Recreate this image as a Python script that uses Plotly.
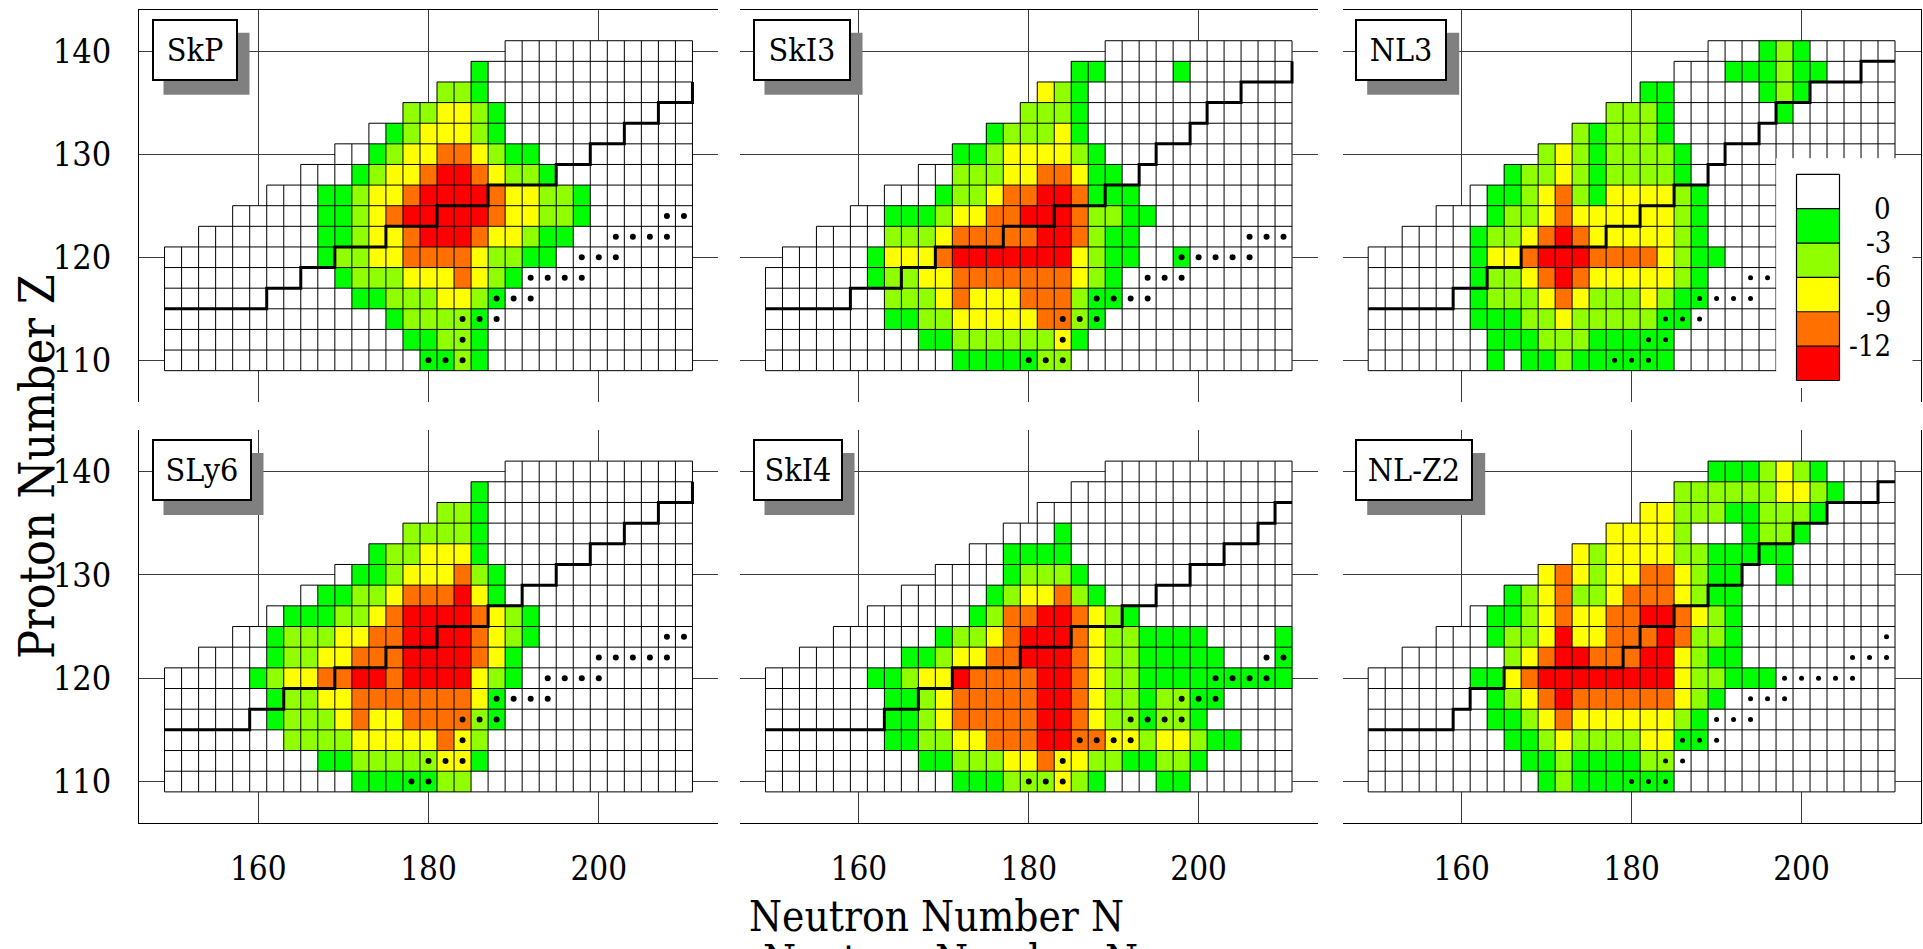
import plotly.graph_objects as go

W, H = 1923, 949

# Even-even nuclei on the chart: neutron number columns, proton number rows (top to bottom)
N_VALUES = list(range(150, 212, 2))
Z_VALUES = list(range(140, 108, -2))

# Shell-correction classes per cell: '.' not computed, '0' >= 0 MeV, '1' 0..-3, '2' -3..-6,
# '3' -6..-9, '4' -9..-12, '5' below -12 MeV
CLASS_ENERGY = {"0": 1.5, "1": -1.5, "2": -4.5, "3": -7.5, "4": -10.5, "5": -13.5}
BAND_EDGES = [-15, -12, -9, -6, -3, 0, 3]
BAND_COLORS = ["#ff0000", "#ff7000", "#ffff00", "#90ff00", "#00ff00", "#ffffff"]
LEGEND_TICKS = [0, -3, -6, -9, -12]

PANEL_NAMES = ["SkP", "SkI3", "NL3", "SLy6", "SkI4", "NL-Z2"]

SKP_ROWS = [
    ".........." ".........." "0000000000" "0",
    ".........." "........10" "0000000000" "0",
    ".........." "......2210" "0000000000" "0",
    ".........." "....223321" "0000000000" "0",
    ".........." "..01233321" "0000000000" "0",
    ".........." "0012334432" "1100000000" "0",
    "........00" "0123345543" "2210000000" "0",
    "......0001" "1233455554" "3322100000" "0",
    "....000001" "1234555554" "3322100000" "0",
    "..00000001" "1233455543" "3211000000" "0",
    "0000000001" "2233444432" "2110000000" "0",
    "0000000000" "1222333432" "1000000000" "0",
    "0000000000" "0112223321" "0000000000" "0",
    "0000000000" "0001222210" "0000000000" "0",
    "0000000000" "0000112210" "0000000000" "0",
    "0000000000" "0000011210" "0000000000" "0",
]
SKP_DOT_N = [208, 210, 202, 204, 206, 208, 198, 200, 202, 192, 194, 196, 198,
             188, 190, 192, 184, 186, 188, 184, 180, 182, 184]
SKP_DOT_Z = [124, 124, 122, 122, 122, 122, 120, 120, 120, 118, 118, 118, 118,
             116, 116, 116, 114, 114, 114, 112, 110, 110, 110]
SKP_LINE_N = [149, 161, 161, 165, 165, 169, 169, 175, 175, 181, 181, 187, 187,
              195, 195, 199, 199, 203, 203, 207, 207, 211, 211]
SKP_LINE_Z = [115, 115, 117, 117, 119, 119, 121, 121, 123, 123, 125, 125, 127,
              127, 129, 129, 131, 131, 133, 133, 135, 135, 137]

SKI3_ROWS = [
    ".........." ".........." "0000000000" "0",
    ".........." "........11" "0000100000" "0",
    ".........." "......3210" "0000000000" "0",
    ".........." ".....22210" "0000000000" "0",
    ".........." "...1222310" "0000000000" "0",
    ".........." ".112333321" "0000000000" "0",
    ".........0" "0222334431" "1000000000" "0",
    ".......000" "1223445541" "1100000000" "0",
    ".....00111" "2334455542" "2110000000" "0",
    "...0000222" "3444445542" "1100000000" "0",
    ".000001333" "4555555532" "1100100000" "0",
    "0000001223" "3444444432" "1000000000" "0",
    "0000000222" "3433344421" "1000000000" "0",
    "0000000112" "2333334421" "0000000000" "0",
    "0000000001" "1222222310" "0000000000" "0",
    "0000000000" "0111112200" "0000000000" "0",
]
SKI3_DOT_N = [206, 208, 210, 198, 200, 202, 204, 206, 194, 196, 198,
              188, 190, 192, 194, 184, 186, 188, 184, 180, 182, 184]
SKI3_DOT_Z = [122, 122, 122, 120, 120, 120, 120, 120, 118, 118, 118,
              116, 116, 116, 116, 114, 114, 114, 112, 110, 110, 110]
SKI3_LINE_N = [149, 159, 159, 165, 165, 169, 169, 177, 177, 183, 183, 189, 189,
               193, 193, 195, 195, 199, 199, 201, 201, 205, 205, 211, 211]
SKI3_LINE_Z = [115, 115, 117, 117, 119, 119, 121, 121, 123, 123, 125, 125, 127,
               127, 129, 129, 131, 131, 133, 133, 135, 135, 137, 137, 139]

NL3_ROWS = [
    ".........." ".........." "0001210000" "0",
    ".........." "........00" "0111211000" "0",
    ".........." "......1100" "0001210000" "0",
    ".........." "....222100" "0000100000" "0",
    ".........." "..21222100" "0000000000" "0",
    ".........." "2321222210" "0000000000" "0",
    "........12" "2321222210" "0000000000" "0",
    "......0112" "3421333321" "0000000000" "0",
    "....000122" "3433333321" "0000000000" "0",
    "..00001223" "4543333321" "0000000000" "0",
    "0000001334" "5554444321" "1000000000" "0",
    "0000001223" "4543333321" "0000000000" "0",
    "0000001222" "3432223211" "0000000000" "0",
    "0000001112" "2322222110" "0000000000" "0",
    "0000000111" "2221111100" "0000000000" "0",
    "0000000101" "1211111100" "0000000000" "0",
]
NL3_DOT_N = [194, 196, 188, 190, 192, 194, 184, 186, 188, 182, 184, 178, 180, 182]
NL3_DOT_Z = [118, 118, 116, 116, 116, 116, 114, 114, 114, 112, 112, 110, 110, 110]
NL3_LINE_N = [149, 159, 159, 163, 163, 167, 167, 177, 177, 181, 181, 185, 185,
              189, 189, 191, 191, 195, 195, 197, 197, 201, 201, 207, 207, 211]
NL3_LINE_Z = [115, 115, 117, 117, 119, 119, 121, 121, 123, 123, 125, 125, 127,
              127, 129, 129, 131, 131, 133, 133, 135, 135, 137, 137, 139, 139]

SLY6_ROWS = [
    ".........." ".........." "0000000000" "0",
    ".........." "........10" "0000000000" "0",
    ".........." "......2210" "0000000000" "0",
    ".........." "....222210" "0000000000" "0",
    ".........." "..12233310" "0000000000" "0",
    ".........." "0112333421" "0000000000" "0",
    "........01" "1223444531" "0000000000" "0",
    "......0111" "2234555543" "2100000000" "0",
    "....001222" "3344555543" "2100000000" "0",
    "..00001223" "3444555543" "1000000000" "0",
    "0000012334" "4554555532" "1000000000" "0",
    "0000001223" "3444444431" "0000000000" "0",
    "0000001222" "3433444421" "0000000000" "0",
    "0000000222" "2333334320" "0000000000" "0",
    "0000000001" "1222223310" "0000000000" "0",
    "0000000000" "0111112200" "0000000000" "0",
]
SLY6_DOT_N = [208, 210, 200, 202, 204, 206, 208, 194, 196, 198, 200,
              188, 190, 192, 194, 184, 186, 188, 184, 180, 182, 184, 178, 180]
SLY6_DOT_Z = [124, 124, 122, 122, 122, 122, 122, 120, 120, 120, 120,
              118, 118, 118, 118, 116, 116, 116, 114, 112, 112, 112, 110, 110]
SLY6_LINE_N = [149, 159, 159, 163, 163, 169, 169, 175, 175, 181, 181, 187, 187,
               191, 191, 195, 195, 199, 199, 203, 203, 207, 207, 211, 211]
SLY6_LINE_Z = [115, 115, 117, 117, 119, 119, 121, 121, 123, 123, 125, 125, 127,
               127, 129, 129, 131, 131, 133, 133, 135, 135, 137, 137, 139]

SKI4_ROWS = [
    ".........." ".........." "0000000000" "0",
    ".........." "........00" "0000000000" "0",
    ".........." "......0000" "0000000000" "0",
    ".........." "....000100" "0000000000" "0",
    ".........." "..00111100" "0000000000" "0",
    ".........." "0000122210" "0000000000" "0",
    "........00" "0001233421" "0000000000" "0",
    "......0000" "0012445543" "2100000000" "0",
    "....000000" "1223455543" "2211110000" "1",
    "..00000011" "2334455543" "2211111000" "1",
    "0000001123" "3544445543" "2211111111" "1",
    "0000000112" "3444445543" "2212211000" "0",
    "0000000112" "3444445543" "2212210000" "0",
    "0000000112" "2334445544" "3323321100" "0",
    "0000000001" "1222334332" "2112210000" "0",
    "0000000000" "0111222321" "0001100000" "0",
]
SKI4_DOT_N = [208, 210, 202, 204, 206, 208, 198, 200, 202, 192, 194, 196, 198,
              186, 188, 190, 192, 184, 180, 182, 184]
SKI4_DOT_Z = [122, 122, 120, 120, 120, 120, 118, 118, 118, 116, 116, 116, 116,
              114, 114, 114, 114, 112, 110, 110, 110]
SKI4_LINE_N = [149, 163, 163, 167, 167, 171, 171, 179, 179, 185, 185, 191, 191,
               195, 195, 199, 199, 203, 203, 207, 207, 209, 209, 211]
SKI4_LINE_Z = [115, 115, 117, 117, 119, 119, 121, 121, 123, 123, 125, 125, 127,
               127, 129, 129, 131, 131, 133, 133, 135, 135, 137, 137]

NLZ2_ROWS = [
    ".........." ".........." "1112321000" "0",
    ".........." "........22" "2222332100" "0",
    ".........." "......3322" "2112221000" "0",
    ".........." "....333320" "0012210000" "0",
    ".........." "..32333322" "1111100000" "0",
    ".........." "3432334432" "1100100000" "0",
    "........12" "3422344432" "1100000000" "0",
    "......0112" "3433445543" "2100000000" "0",
    "....000122" "3533444542" "2100000000" "0",
    "..00000023" "4554445532" "1100000000" "0",
    "0000001134" "5555555532" "2111000000" "0",
    "0000000123" "4544444432" "1000000000" "0",
    "0000000112" "3433333321" "0000000000" "0",
    "0000000011" "2322223311" "0000000000" "0",
    "0000000001" "1211112200" "0000000000" "0",
    "0000000000" "1211111100" "0000000000" "0",
]
NLZ2_DOT_N = [210, 206, 208, 210, 198, 200, 202, 204, 206, 194, 196, 198,
              190, 192, 194, 186, 188, 190, 184, 186, 180, 182, 184]
NLZ2_DOT_Z = [124, 122, 122, 122, 120, 120, 120, 120, 120, 118, 118, 118,
              116, 116, 116, 114, 114, 114, 112, 112, 110, 110, 110]
NLZ2_LINE_N = [149, 159, 159, 161, 161, 165, 165, 179, 179, 181, 181, 185, 185,
               189, 189, 193, 193, 195, 195, 199, 199, 203, 203, 209, 209, 211]
NLZ2_LINE_Z = [115, 115, 117, 117, 119, 119, 121, 121, 123, 123, 125, 125, 127,
               127, 129, 129, 131, 131, 133, 133, 135, 135, 137, 137, 139, 139]

PANELS = [
    (SKP_ROWS, SKP_DOT_N, SKP_DOT_Z, SKP_LINE_N, SKP_LINE_Z, 6),
    (SKI3_ROWS, SKI3_DOT_N, SKI3_DOT_Z, SKI3_LINE_N, SKI3_LINE_Z, 6),
    (NL3_ROWS, NL3_DOT_N, NL3_DOT_Z, NL3_LINE_N, NL3_LINE_Z, 5),
    (SLY6_ROWS, SLY6_DOT_N, SLY6_DOT_Z, SLY6_LINE_N, SLY6_LINE_Z, 6),
    (SKI4_ROWS, SKI4_DOT_N, SKI4_DOT_Z, SKI4_LINE_N, SKI4_LINE_Z, 6),
    (NLZ2_ROWS, NLZ2_DOT_N, NLZ2_DOT_Z, NLZ2_LINE_N, NLZ2_LINE_Z, 5),
]

FONT = "DejaVu Serif Condensed, Liberation Serif, serif"
GRID = "#3c3c3c"
SHADOW = "#808080"

# pixel frames of the panels (left/right and top/bottom, measured from the top-left corner)
COL_PX = [(139.0, 718.0), (740.0, 1317.5), (1342.7, 1920.5)]
ROW_PX = [(9.8, 401.6), (430.1, 822.9)]
N_RANGE = [146, 214]
Z_RANGE = [106, 144]

# name tags: text-box widths (px), padding and shadow offset
TAG_TEXT_W = [60, 72, 66, 74, 64, 92]
TAG_TEXT_H = 36
TAG_PAD, TAG_BORDER = 11, 2
SHADOW_DX, SHADOW_DY = 12, 14


def heat_values(rows):
    return [[None if ch == "." else CLASS_ENERGY[ch] for ch in row] for row in rows]


def merge_runs(units):
    """units: set of (start, level) unit segments of length 2 -> merged runs."""
    runs = []
    for level in sorted({lv for _, lv in units}):
        starts = sorted(a for a, lv in units if lv == level)
        first = prev = starts[0]
        for a in starts[1:]:
            if a != prev + 2:
                runs.append((first, prev + 2, level))
                first = a
            prev = a
        runs.append((first, prev + 2, level))
    return runs


def cell_outlines(rows):
    hor, ver = set(), set()
    for z, row in zip(Z_VALUES, rows):
        for n, ch in zip(N_VALUES, row):
            if ch == ".":
                continue
            hor.add((n - 1, z - 1))
            hor.add((n - 1, z + 1))
            ver.add((z - 1, n - 1))
            ver.add((z - 1, n + 1))
    xs, ys = [], []
    for a, b, z in merge_runs(hor):
        xs += [a, b, None]
        ys += [z, z, None]
    for a, b, n in merge_runs(ver):
        xs += [n, n, None]
        ys += [a, b, None]
    return xs, ys


lo_e, hi_e = BAND_EDGES[0], BAND_EDGES[-1]
colorscale = []
for i, col in enumerate(BAND_COLORS):
    colorscale.append([(BAND_EDGES[i] - lo_e) / (hi_e - lo_e), col])
    colorscale.append([(BAND_EDGES[i + 1] - lo_e) / (hi_e - lo_e), col])

fig = go.Figure()
axes = {}
annotations = []
shapes = []

for k, (rows, dot_n, dot_z, line_n, line_z, dot_size) in enumerate(PANELS):
    row, col = divmod(k, 3)
    sfx = "" if k == 0 else str(k + 1)
    xa, ya = "x" + sfx, "y" + sfx

    fig.add_trace(go.Heatmap(
        x=N_VALUES, y=Z_VALUES, z=heat_values(rows), zmin=lo_e, zmax=hi_e,
        colorscale=colorscale, showscale=False, hoverinfo="skip", xaxis=xa, yaxis=ya))
    gx, gy = cell_outlines(rows)
    fig.add_trace(go.Scatter(
        x=gx, y=gy, mode="lines", line=dict(color="black", width=1),
        hoverinfo="skip", xaxis=xa, yaxis=ya))
    fig.add_trace(go.Scatter(
        x=line_n, y=line_z, mode="lines", line=dict(color="black", width=3),
        hoverinfo="skip", xaxis=xa, yaxis=ya))
    fig.add_trace(go.Scatter(
        x=dot_n, y=dot_z, mode="markers",
        marker=dict(color="black", size=dot_size, line=dict(width=0)),
        hoverinfo="skip", xaxis=xa, yaxis=ya))

    x0, x1 = COL_PX[col]
    y0, y1 = ROW_PX[row]
    axes["xaxis" + sfx] = dict(
        domain=[x0 / W, x1 / W], range=N_RANGE, anchor=ya,
        tickvals=[160, 180, 200], showgrid=True, gridcolor=GRID, gridwidth=1,
        zeroline=False, ticks="", side="top" if row == 0 else "bottom",
        showline=True, linecolor="black", linewidth=1,
        showticklabels=(row == 1), ticklabelstandoff=16,
        tickfont=dict(family=FONT, size=33, color="black"))
    axes["yaxis" + sfx] = dict(
        domain=[1 - y1 / H, 1 - y0 / H], range=Z_RANGE, anchor=xa,
        tickvals=[110, 120, 130, 140], showgrid=True, gridcolor=GRID, gridwidth=1,
        zeroline=False, ticks="", side="right" if col == 2 else "left",
        showline=(col != 1), linecolor="black", linewidth=1,
        showticklabels=(col == 0), ticklabelstandoff=20,
        tickfont=dict(family=FONT, size=34, color="black"))

    # model name tag with a grey drop shadow behind it
    bx, by = x0 + 12.5, y0 + 9
    bw = TAG_TEXT_W[k] + 2 * (TAG_PAD + TAG_BORDER)
    bh = TAG_TEXT_H + 2 * (TAG_PAD + TAG_BORDER)
    shapes.append(dict(type="rect", xref="paper", yref="paper", layer="above",
                       x0=(bx + SHADOW_DX) / W, x1=(bx + SHADOW_DX + bw) / W,
                       y0=1 - (by + SHADOW_DY + bh) / H, y1=1 - (by + SHADOW_DY) / H,
                       fillcolor=SHADOW, line=dict(width=0)))
    annotations.append(dict(
        xref="paper", yref="paper", x=bx / W, y=1 - by / H, xanchor="left", yanchor="top",
        text=PANEL_NAMES[k], showarrow=False, width=TAG_TEXT_W[k], height=TAG_TEXT_H,
        borderpad=TAG_PAD, borderwidth=TAG_BORDER, bgcolor="white", bordercolor="black",
        font=dict(family=FONT, size=32, color="black")))

# colour key drawn in its own small frame over the NL3 panel
KEY_PX_X = (1776.3, 1912.4)
KEY_PX_Y = (158.3, 388.0)
key_span = KEY_PX_X[1] - KEY_PX_X[0]
band_px = 34.4
key_top = hi_e + (174.3 - KEY_PX_Y[0]) / band_px * 3
key_bottom = lo_e - (KEY_PX_Y[1] - 380.5) / band_px * 3
bar_x = [1796.5 - KEY_PX_X[0], 1839.5 - KEY_PX_X[0]]

# white backing that hides the chart cells under the key
fig.add_trace(go.Heatmap(
    x=[0, key_span], y=[key_bottom, key_top], z=[[CLASS_ENERGY["0"]]], zmin=lo_e, zmax=hi_e,
    colorscale=colorscale, showscale=False, hoverinfo="skip", xaxis="x7", yaxis="y7"))
band_mid = [(BAND_EDGES[i] + BAND_EDGES[i + 1]) / 2 for i in range(len(BAND_COLORS))]
fig.add_trace(go.Heatmap(
    x=bar_x, y=BAND_EDGES, z=[[v] for v in band_mid], zmin=lo_e, zmax=hi_e,
    colorscale=colorscale, showscale=False, hoverinfo="skip", xaxis="x7", yaxis="y7"))
kx, ky = [], []
for e in BAND_EDGES:
    kx += [bar_x[0], bar_x[1], None]
    ky += [e, e, None]
for xv in bar_x:
    kx += [xv, xv, None]
    ky += [lo_e, hi_e, None]
fig.add_trace(go.Scatter(x=kx, y=ky, mode="lines", line=dict(color="black", width=1.2),
                         hoverinfo="skip", xaxis="x7", yaxis="y7"))
axes["xaxis7"] = dict(domain=[KEY_PX_X[0] / W, KEY_PX_X[1] / W], range=[0, key_span],
                      anchor="y7", visible=False)
axes["yaxis7"] = dict(domain=[1 - KEY_PX_Y[1] / H, 1 - KEY_PX_Y[0] / H],
                      range=[key_bottom, key_top], anchor="x7", visible=False)
for t in LEGEND_TICKS:
    annotations.append(dict(xref="paper", yref="y7", x=1892 / W, y=t, xanchor="right",
                            yanchor="middle", text=str(t), showarrow=False, borderpad=0,
                            font=dict(family=FONT, size=29, color="black")))

# axis titles
annotations.append(dict(xref="paper", yref="paper", x=37 / W, y=1 - 467 / H,
                        text="Proton Number Z", textangle=-90, showarrow=False,
                        xanchor="center", yanchor="middle",
                        font=dict(family=FONT, size=48, color="black")))
annotations.append(dict(xref="paper", yref="paper", x=936 / W, y=1 - 916 / H,
                        text="Neutron Number N", showarrow=False,
                        xanchor="center", yanchor="middle",
                        font=dict(family=FONT, size=42, color="black")))
# a second, mostly clipped copy of the title sits at the bottom edge
annotations.append(dict(xref="paper", yref="paper", x=950 / W, y=1 - 960 / H,
                        text="Neutron Number N", showarrow=False,
                        xanchor="center", yanchor="middle",
                        font=dict(family=FONT, size=42, color="black")))

fig.update_layout(
    width=W, height=H, margin=dict(l=0, r=0, t=0, b=0),
    paper_bgcolor="white", plot_bgcolor="white", showlegend=False,
    annotations=annotations, shapes=shapes, **axes)

fig.write_html("out.html")
